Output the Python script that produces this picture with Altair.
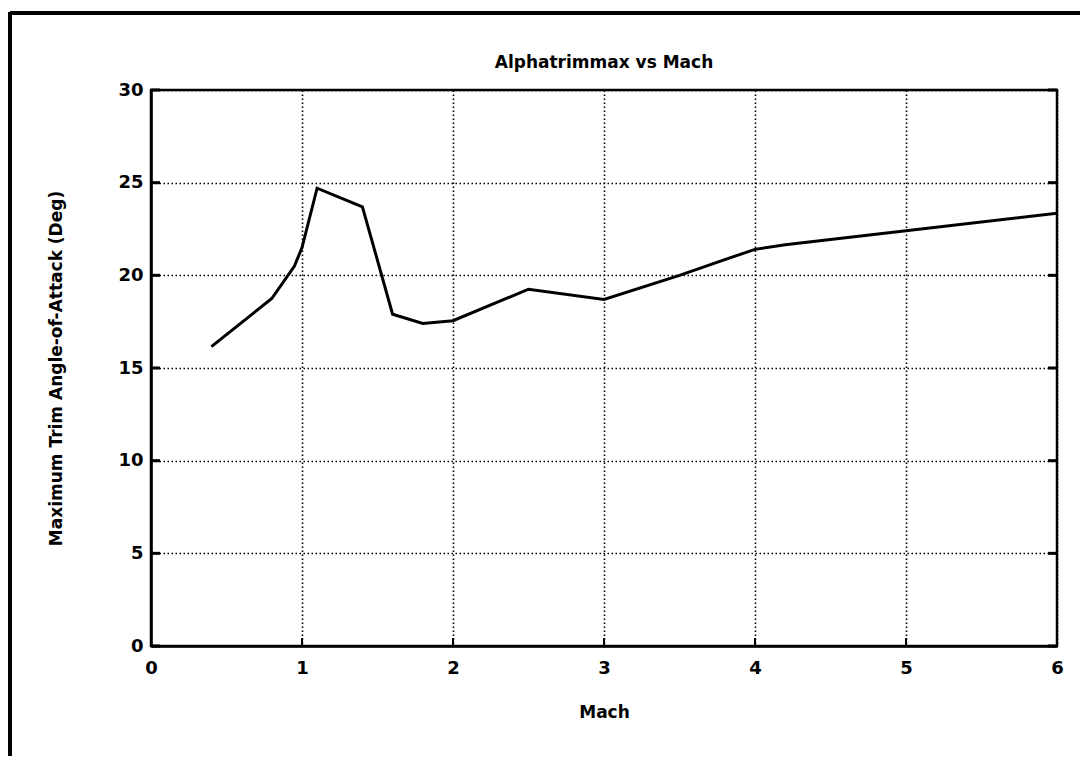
import altair as alt
import pandas as pd

mach = [0.4, 0.8, 0.95, 1.0, 1.1, 1.4, 1.6, 1.8, 2.0, 2.5, 3.0, 3.5, 3.8, 4.0, 4.2, 5.0, 6.0]
alpha = [16.15, 18.75, 20.5, 21.5, 24.7, 23.7, 17.9, 17.4, 17.55, 19.25, 18.7, 20.0, 20.85, 21.4, 21.65, 22.4, 23.35]

x_ticks = [0, 1, 2, 3, 4, 5, 6]
y_ticks = [0, 5, 10, 15, 20, 25, 30]
title_text = ["Alphatrimmax vs Mach"]

FONT = "DejaVu Sans"
W, H = 906, 556

df = pd.DataFrame({"mach": mach, "alpha": alpha})
xt = pd.DataFrame({"t": x_ticks})
yt = pd.DataFrame({"t": y_ticks})
tt = pd.DataFrame({"title": title_text})

xscale = alt.Scale(domain=[0, 6], nice=False, zero=False)
yscale = alt.Scale(domain=[0, 30], nice=False)

line = alt.Chart(df).mark_line(color="black", strokeWidth=3, clip=True).encode(
    x=alt.X("mach:Q", scale=xscale,
            axis=alt.Axis(title="Mach", values=x_ticks, format="d", ticks=False,
                          labelFlush=False,
                          grid=True, gridDash=[1.5, 2.5], gridColor="black", gridWidth=1.6,
                          gridOpacity=1, domainColor="black", domainWidth=2.5,
                          labelFont=FONT, labelFontSize=18, labelFontWeight="bold",
                          labelColor="black", labelPadding=13,
                          titleFont=FONT, titleFontSize=17, titleFontWeight="bold",
                          titleColor="black", titlePadding=27)),
    y=alt.Y("alpha:Q", scale=yscale,
            axis=alt.Axis(title="Maximum Trim Angle-of-Attack (Deg)", values=y_ticks,
                          ticks=False, labelFlush=False,
                          grid=True, gridDash=[1.5, 2.5], gridColor="black",
                          gridWidth=1.6, gridOpacity=1, domainColor="black", domainWidth=2.5,
                          labelFont=FONT, labelFontSize=18, labelFontWeight="bold",
                          labelColor="black", labelPadding=8,
                          titleFont=FONT, titleFontSize=17, titleFontWeight="bold",
                          titleColor="black", titlePadding=52)),
)

ytick_l = alt.Chart(yt).mark_rule(color="black", strokeWidth=3).encode(
    y=alt.Y("t:Q", scale=yscale), x=alt.value(0), x2=alt.value(9))
ytick_r = alt.Chart(yt).mark_rule(color="black", strokeWidth=3).encode(
    y=alt.Y("t:Q", scale=yscale), x=alt.value(W - 9), x2=alt.value(W))
xtick_b = alt.Chart(xt).mark_rule(color="black", strokeWidth=2).encode(
    x=alt.X("t:Q", scale=xscale), y=alt.value(H - 8), y2=alt.value(H))

title = alt.Chart(tt).mark_text(font=FONT, fontSize=17, fontWeight="bold", color="black",
                                align="center", baseline="alphabetic").encode(
    text="title:N", x=alt.value(W / 2), y=alt.value(-22))

border_top = alt.Chart(xt).mark_rule(color="black", strokeWidth=3, clip=False).encode(
    x=alt.value(-141), x2=alt.value(940), y=alt.value(-77))
border_left = alt.Chart(xt).mark_rule(color="black", strokeWidth=3, clip=False).encode(
    x=alt.value(-141), y=alt.value(-78), y2=alt.value(680))

chart = alt.layer(line, ytick_l, ytick_r, xtick_b, title, border_top, border_left).properties(
    width=W, height=H,
    autosize=alt.AutoSizeParams(type="none"),
    padding={"left": 143, "top": 82, "right": 23, "bottom": 110},
    background="white",
).configure_view(stroke="black", strokeWidth=2.5)

chart.save("out.html", embed_options={"renderer": "svg", "actions": False})
